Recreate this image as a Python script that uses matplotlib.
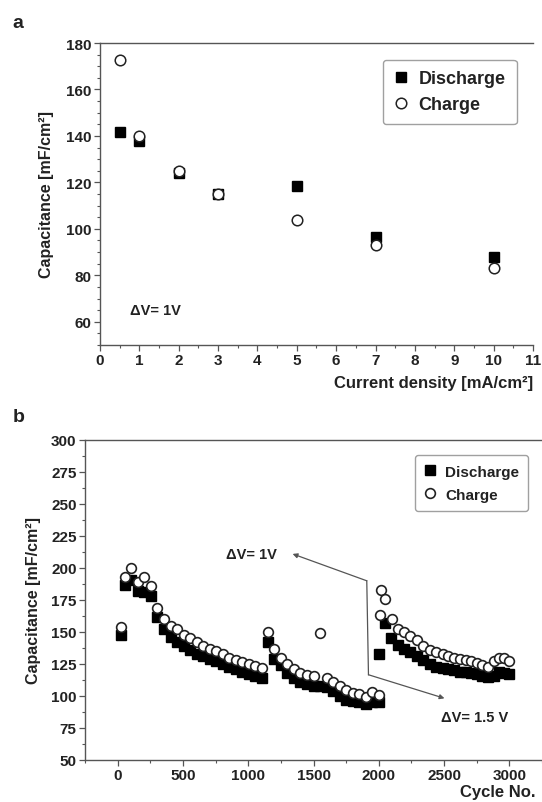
import matplotlib
matplotlib.use("Agg")
import matplotlib.pyplot as plt
from matplotlib.ticker import MultipleLocator

plt.rcParams['font.family'] = ['Liberation Sans', 'DejaVu Sans']
plt.rcParams['font.weight'] = 'bold'

TXT = '#222222'
AX = '#555555'

# ---------- panel a data ----------
a_current = [0.5, 1, 2, 3, 5, 7, 10]
a_discharge = [141.5, 138, 124, 115, 118.5, 96.5, 88]
a_charge = [172.5, 140, 125, 115, 104, 93, 83]

# ---------- panel b data ----------
b_dis_cycles = [25, 55, 105, 155, 205, 255, 305, 355, 405, 455, 505, 555, 605, 655, 705, 755, 805, 855, 905, 955, 1005, 1055, 1105,
                1150, 1200, 1250, 1300, 1350, 1400, 1450, 1500, 1550, 1600, 1650, 1700, 1750, 1800, 1850, 1900, 1950, 2000,
                2005, 2050, 2095, 2150, 2190, 2240, 2290, 2340, 2390, 2440, 2490, 2530, 2575, 2620, 2665, 2710, 2750, 2790, 2840, 2880, 2920, 2960, 3000]
b_discharge = [148, 187, 191, 182, 181, 178, 162, 152, 146, 142, 139, 136, 133, 131, 129, 127, 125, 123, 121, 119, 117, 116, 114,
               142, 129, 124, 118, 114, 111, 109, 108, 108, 107, 104, 100, 97, 96, 95, 94, 95, 95,
               133, 157, 145, 140, 137, 134, 131, 128, 125, 123, 122, 121, 120, 119, 118.5, 118, 117, 116, 114.5, 116, 119, 118, 117]

b_chg_cycles = [25, 55, 105, 155, 205, 255, 305, 355, 405, 455, 505, 555, 605, 655, 705, 755, 805, 855, 905, 955, 1005, 1055, 1105,
                1150, 1200, 1250, 1300, 1350, 1400, 1450, 1500, 1550, 1600, 1650, 1700, 1750, 1800, 1850, 1900, 1950, 2000,
                2015, 2050, 2010, 2100, 2150, 2190, 2240, 2290, 2340, 2390, 2440, 2490, 2530, 2575, 2620, 2665, 2710, 2750, 2790, 2840, 2880, 2920, 2960, 3000]
b_charge = [154, 193, 200, 189, 193, 186, 169, 160, 155, 152, 148, 145, 142, 139, 137, 135, 133, 130, 128.5, 126.5, 125, 123.5, 122,
            150, 137, 130, 125, 121, 118, 116.5, 115.5, 149, 114, 111, 108, 104.5, 102, 101.5, 99.5, 103, 101,
            183, 175.5, 163, 160, 152, 150, 147, 144, 139, 136, 134, 132.5, 131, 130, 129, 128, 127.5, 126, 124, 122.5, 127, 130, 129.5, 127]

# annotation guide path (ΔV change)
guide_x = [1340, 1908, 1921, 2503]
guide_y = [211, 190, 116.6, 98.2]

fig = plt.figure(figsize=(5.42, 8.03), dpi=100)

def style(ax, lsize):
    for s in ['left', 'bottom', 'top']:
        ax.spines[s].set_color(AX)
        ax.spines[s].set_linewidth(1.0)
    ax.spines['right'].set_visible(False)
    ax.tick_params(which='major', direction='out', length=4, width=0.9, color=AX,
                   labelsize=lsize, labelcolor=TXT, pad=2)
    ax.tick_params(which='minor', direction='out', length=2, width=0.8, color=AX)
    for lab in ax.get_xticklabels() + ax.get_yticklabels():
        lab.set_fontweight('bold')

# ---------- panel a ----------
axa = fig.add_axes([100/542, 1-346/803, 433/542, 302/803])
axa.plot(a_current, a_discharge, 's', ms=7, mfc='black', mec='black', label='Discharge', clip_on=False)
axa.plot(a_current, a_charge, 'o', ms=7.6, mfc='white', mec='#222222', mew=1.1, label='Charge', clip_on=False)
axa.set_xlim(0, 11)
axa.set_ylim(50, 180)
axa.xaxis.set_major_locator(MultipleLocator(1))
axa.xaxis.set_minor_locator(MultipleLocator(0.5))
axa.set_yticks([60, 80, 100, 120, 140, 160, 180])
axa.yaxis.set_minor_locator(MultipleLocator(5))
style(axa, 11)
axa.set_ylabel('Capacitance [mF/cm²]', fontsize=11.5, fontweight='bold', color=TXT, labelpad=9)
axa.text(1.0, -0.125, 'Current density [mA/cm²]', transform=axa.transAxes, ha='right', va='center',
         fontsize=12, fontweight='bold', color=TXT)
axa.text(0.75, 65, 'ΔV= 1V', fontsize=10.5, fontweight='bold', color=TXT, va='center', ha='left')
lga = axa.legend(loc='upper right', bbox_to_anchor=(0.962, 0.945), fontsize=13, frameon=True,
                 fancybox=True, edgecolor='#888888', handlelength=0.8, handletextpad=0.6,
                 borderpad=0.6, labelspacing=0.5, borderaxespad=0)
for t in lga.get_texts():
    t.set_fontweight('bold'); t.set_color(TXT)

# ---------- panel b ----------
axb = fig.add_axes([85/542, 1-761/803, 457/542, 320/803])
axb.plot(b_dis_cycles, b_discharge, 's', ms=6.5, mfc='black', mec='black', label='Discharge')
axb.plot(b_chg_cycles, b_charge, 'o', ms=7.0, mfc='white', mec='#222222', mew=1.2, label='Charge')
axb.set_xlim(-250, 3250)
axb.set_ylim(50, 300)
axb.set_xticks([0, 500, 1000, 1500, 2000, 2500, 3000])
axb.xaxis.set_minor_locator(MultipleLocator(250))
axb.yaxis.set_major_locator(MultipleLocator(25))
axb.yaxis.set_minor_locator(MultipleLocator(12.5))
style(axb, 11)
axb.set_ylabel('Capacitance [mF/cm²]', fontsize=11.5, fontweight='bold', color=TXT, labelpad=7)
axb.text(0.985, -0.098, 'Cycle No.', transform=axb.transAxes, ha='right', va='center',
         fontsize=12, fontweight='bold', color=TXT)
axb.plot(guide_x[1:3], guide_y[1:3], '-', color='#555555', lw=0.9)
axb.annotate('', xy=(guide_x[0], guide_y[0]), xytext=(guide_x[1], guide_y[1]),
             arrowprops=dict(arrowstyle='-|>', color='#555555', lw=0.9, mutation_scale=7, shrinkA=0, shrinkB=0))
axb.annotate('', xy=(guide_x[3], guide_y[3]), xytext=(guide_x[2], guide_y[2]),
             arrowprops=dict(arrowstyle='-|>', color='#555555', lw=0.9, mutation_scale=7, shrinkA=0, shrinkB=0))
axb.text(1023, 211, 'ΔV= 1V', fontsize=10.5, fontweight='bold', color=TXT, ha='center', va='center')
axb.text(2735, 83.5, 'ΔV= 1.5 V', fontsize=10.5, fontweight='bold', color=TXT, ha='center', va='center')
lgb = axb.legend(loc='upper right', bbox_to_anchor=(0.97, 0.952), fontsize=11, frameon=True,
                 fancybox=True, edgecolor='#888888', handlelength=0.8, handletextpad=0.6,
                 borderpad=0.6, labelspacing=0.6, borderaxespad=0)
for t in lgb.get_texts():
    t.set_fontweight('bold'); t.set_color(TXT)

fig.text(18/542, 1-23/803, 'a', fontsize=14, fontweight='bold', color=TXT, ha='center', va='center')
fig.text(19/542, 1-418/803, 'b', fontsize=14, fontweight='bold', color=TXT, ha='center', va='center')

fig.savefig('out.png', dpi=100)
